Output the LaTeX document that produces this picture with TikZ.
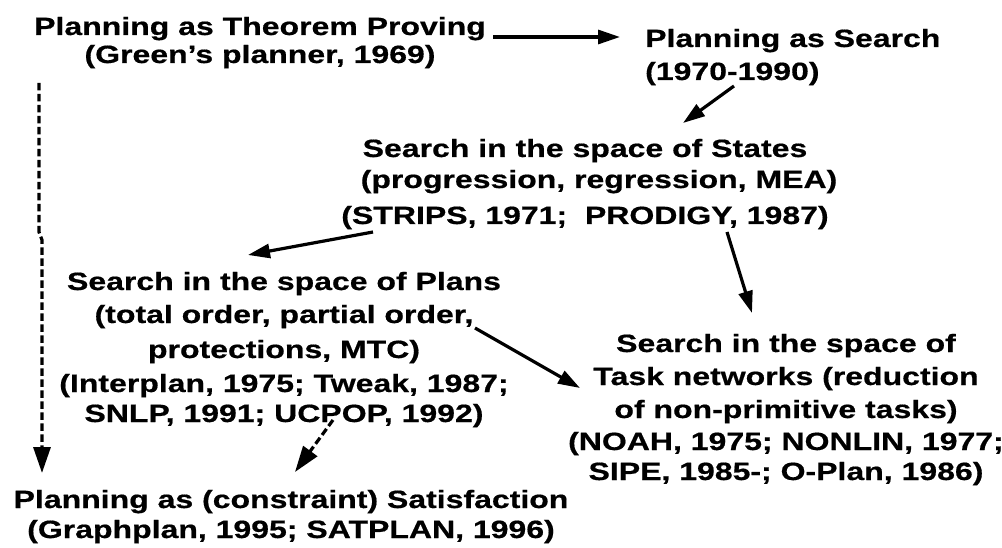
\documentclass[tikz,border=0pt]{standalone}
\usepackage{fontspec}
\setmainfont{Liberation Sans}[FakeStretch=1.28,FakeBold=0.6]
\usetikzlibrary{arrows.meta,calc}
\begin{document}
\begin{tikzpicture}[x=1pt,y=-1pt,
  lbl/.style={inner sep=0pt,anchor=base,align=center,font=\fontsize{25}{30}\selectfont\bfseries},
  arr/.style={line width=3.2pt,-{Triangle[length=22pt,width=14pt]}},
  darr/.style={line width=3.2pt,dash pattern=on 7.5pt off 3.5pt,-{Triangle[length=26pt,width=17pt]}}]
\useasboundingbox (0,0) rectangle (1002,548);
\node[lbl] (n1) at (260,63) {Planning as Theorem Proving\\[-2pt](Green’s planner, 1969)};
\node[lbl,anchor=base west,align=left] (n2) at (645,80) {Planning as Search\\[3pt](1970-1990)};
\node[lbl] (n3) at (585,224) {Search in the space of States\\[1pt]\hspace*{28pt}(progression, regression, MEA)\\[6pt](STRIPS, 1971;\ \ PRODIGY, 1987)};
\node[lbl] (n4) at (284,422) {Search in the space of Plans\\[3pt](total order, partial order,\\[5pt]protections, MTC)\\[4pt](Interplan, 1975; Tweak, 1987;\\[0pt]SNLP, 1991; UCPOP, 1992)};
\node[lbl] (n5) at (786,480) {Search in the space of\\[3pt]Task networks (reduction\\[3pt]of non-primitive tasks)\\[2pt](NOAH, 1975; NONLIN, 1977;\\[0pt]SIPE, 1985-; O-Plan, 1986)};
\node[lbl] (n6) at (291,538) {Planning as (constraint) Satisfaction\\[0pt](Graphplan, 1995; SATPLAN, 1996)};
\draw[arr] ($(n1.base)+(233,-26)$) -- ($(n2.base west)+(-25,-43)$);
\draw[arr] ($(n2.base west)+(89,6)$) -- ($(n3.base)+(98,-101)$);
\draw[arr] ($(n3.base)+(-212,8)$) -- ($(n4.base)+(-36,-167)$);
\draw[arr] ($(n3.base)+(142,8)$) -- ($(n5.base)+(-34,-167)$);
\draw[arr] ($(n4.base)+(191,-94)$) -- ($(n5.base)+(-206,-92)$);
\draw[darr] ($(n1.base)+(-221,20)$) -- ++(0,149) -- ++(3,8) -- ($(n6.base)+(-249,-65)$);
\draw[darr] ($(n4.base)+(49,-2)$) -- ($(n6.base)+(4,-66)$);
\end{tikzpicture}
\end{document}
